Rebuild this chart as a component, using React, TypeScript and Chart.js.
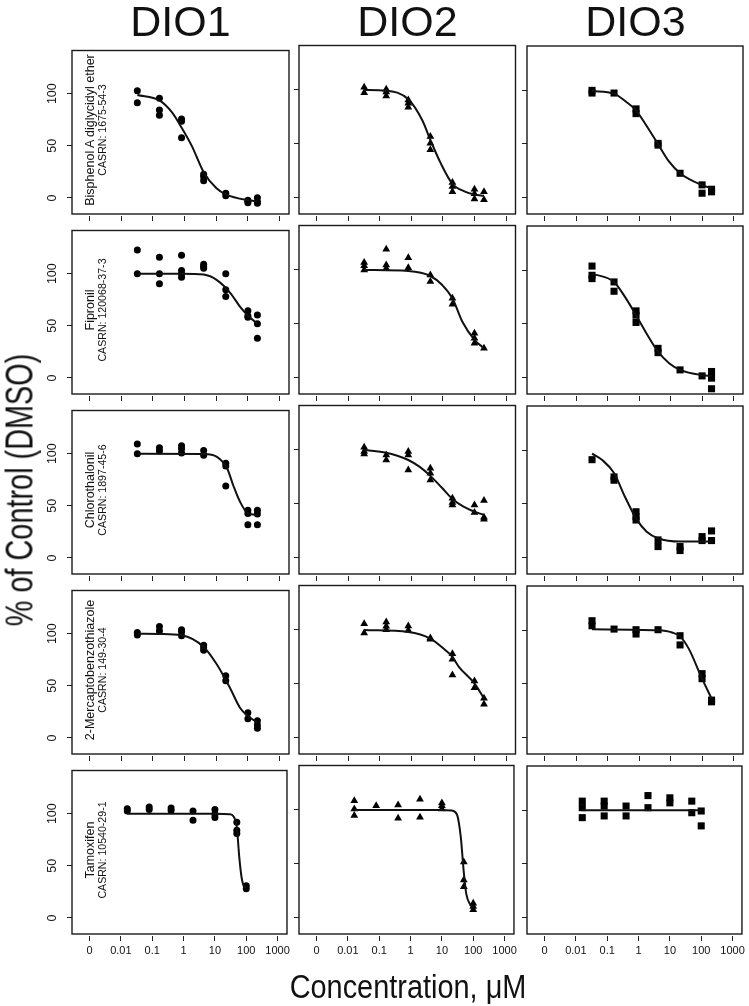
import React, { useEffect, useRef } from 'react';
import { Chart, registerables } from 'chart.js';
Chart.register(...registerables);

// ---------------- data ----------------
const ENZYMES = ['DIO1', 'DIO2', 'DIO3'];
const COMPOUNDS = ['Bisphenol A diglycidyl ether', 'Fipronil', 'Chlorothalonil', '2-Mercaptobenzothiazole', 'Tamoxifen'];
const CASRNS = ['CASRN: 1675-54-3', 'CASRN: 120068-37-3', 'CASRN: 1897-45-6', 'CASRN: 149-30-4', 'CASRN: 10540-29-1'];
const Y_TITLE = '% of Control (DMSO)';
const X_TITLE = 'Concentration, \u03BCM';
const X_TICK_VALUES = [0.001, 0.01, 0.1, 1, 10, 100, 1000];
const X_TICK_LABELS = ['0', '0.01', '0.1', '1', '10', '100', '1000'];
const Y_TICK_VALUES = [0, 50, 100];

const CONC_UM = [0.032, 0.16, 0.8, 4, 20, 100, 200];
const CONC_TAMOXIFEN_UM = [0.016, 0.08, 0.4, 2, 10, 50, 100];

// Bisphenol A diglycidyl ether
const BADGE_DIO1 = [[102.8, 91.4], [95.7, 84.3, 79.3], [75.6, 73.5, 57.7], [22.8, 20.4, 16.4], [4.6, 2.2], [-2.2, -4.6, -3.4], [0.3, -3.7, -5.2]];
const BADGE_DIO1_FIT_X = [0.032, 0.16, 0.4, 0.8, 1.7, 4, 10, 20, 100, 200];
const BADGE_DIO1_FIT_Y = [98.8, 93.5, 82, 67.5, 49.7, 24.7, 9.5, 3.4, -2.2, -3.1];
const BADGE_DIO2 = [[102.5, 97.5], [100.6, 98.1, 94.4], [90.7, 87.6, 83.9], [56.7, 50.5, 44.3], [13.9, 10.2, 5.3], [7.7, 3.4, -1.5], [5.3, -2.2]];
const BADGE_DIO2_FIT_X = [0.032, 0.16, 0.8, 2.2, 4, 8.5, 20, 50, 100, 200];
const BADGE_DIO2_FIT_Y = [100, 99.4, 91.3, 72, 53.6, 31.9, 12.7, 5.5, 2.8, 1.5];
const BADGE_DIO3 = [[100, 97.5], [97.5], [82.7, 78.3], [50.5, 48.9], [22.6], [11.8, 4.0], [7.7, 5.3]];
const BADGE_DIO3_FIT_X = [0.032, 0.16, 0.36, 0.8, 1.8, 4, 9, 20, 100, 200];
const BADGE_DIO3_FIT_Y = [99.4, 96.9, 90, 81.4, 66, 49.8, 33.4, 22.6, 11.5, 8.7];

// Fipronil
const FIPRONIL_DIO1 = [[122.6, 100], [115.8, 100, 90.4], [117.6, 103.1, 100, 96.6], [109, 107.1, 105.3], [100, 84.5, 78], [64.4, 59.4, 58.2], [60.4, 52, 38.1]];
const FIPRONIL_DIO1_FIT_X = [0.032, 0.8, 4, 10.5, 28, 57, 100, 200];
const FIPRONIL_DIO1_FIT_Y = [100, 100, 99.1, 93.8, 81.4, 68.1, 59.8, 52];
const FIPRONIL_DIO2 = [[107, 104, 100], [119.2, 104.6, 101.5], [111.5, 102.2], [95.4, 89.2], [73.7, 68.1], [41.2, 36.5, 31.9], [27.2]];
const FIPRONIL_DIO2_FIT_X = [0.032, 0.8, 4, 9.5, 20, 41, 100, 200];
const FIPRONIL_DIO2_FIT_Y = [100, 99, 94.4, 86, 73.7, 52, 35, 27.2];
const FIPRONIL_DIO3 = [[104, 95.4, 92.3], [89.2, 80.5], [62.2, 58.2, 51.4], [27.2, 23.2], [7.1], [1.5], [5.6, -0.6, -10.5]];
const FIPRONIL_DIO3_FIT_X = [0.032, 0.16, 0.36, 0.8, 1.8, 4, 9, 20, 100, 200];
const FIPRONIL_DIO3_FIT_Y = [96.9, 89.2, 75, 58.2, 40.2, 24.1, 13.3, 7.1, 2.2, 1.5];

// Chlorothalonil
const CHLOROTHALONIL_DIO1 = [[109.3, 100], [105.6, 102.5], [107.7, 104.6, 100.6], [103.1, 98.5], [90.7, 88.2, 69], [45.8, 42.7, 31.9], [45.8, 42.1, 31.9]];
const CHLOROTHALONIL_DIO1_FIT_X = [0.032, 4, 10.5, 22, 35, 57, 100, 200];
const CHLOROTHALONIL_DIO1_FIT_Y = [100, 99.7, 96.9, 86, 69, 53.6, 42.7, 41.2];
const CHLOROTHALONIL_DIO2 = [[102.5, 98.5, 96.3], [95.4, 90.7], [98.5, 95.4, 81.4], [83, 78.3, 72.1], [55.1, 51.1, 48.9], [48.9, 41.8], [52.9, 37.5, 35.6]];
const CHLOROTHALONIL_DIO2_FIT_X = [0.032, 0.16, 0.36, 0.8, 1.8, 4, 9, 20, 45, 100, 200];
const CHLOROTHALONIL_DIO2_FIT_Y = [100, 97.5, 94.7, 90.7, 84.5, 75.9, 65.3, 54.5, 47.4, 42.7, 39.6];
const CHLOROTHALONIL_DIO3 = [[91.3], [75.2, 72.1], [42.7, 38.1, 35], [16.4, 10.2], [10.2, 6.5], [19.5, 15.8], [24.8, 15.8]];
const CHLOROTHALONIL_DIO3_FIT_X = [0.032, 0.069, 0.16, 0.355, 0.8, 1.74, 4, 20, 100, 200];
const CHLOROTHALONIL_DIO3_FIT_Y = [96.9, 90.7, 78.9, 56.7, 36.5, 24.1, 18, 14.9, 14.9, 14.9];

// 2-Mercaptobenzothiazole
const MBT_DIO1 = [[101.2, 98.8], [106.8, 102.5], [103.7, 101.9, 98.1], [88.9, 86.4, 84], [59.6, 54.9], [24.1, 18.5], [16.4, 12.3, 9.3]];
const MBT_DIO1_FIT_X = [0.032, 0.16, 0.8, 4, 10.5, 28, 57, 100, 200];
const MBT_DIO1_FIT_Y = [100, 99.7, 98.5, 87.3, 70.4, 47.2, 28.7, 21, 14.8];
const MBT_DIO2 = [[105.9, 97.2], [107.4, 103.4, 100.3], [103.7, 99.7], [92.6, 91.4], [77.8, 72.8, 58], [52.5, 46.3], [36.4, 30.9]];
const MBT_DIO2_FIT_X = [0.032, 0.8, 4, 12, 20, 32, 100, 200];
const MBT_DIO2_FIT_Y = [100, 98.1, 92, 81.2, 75, 65.7, 50.3, 36.4];
const MBT_DIO3 = [[109, 104.3], [101.2], [100.6, 96.6], [100.6], [95, 86.4], [59.6, 54.9], [34.9, 33.3]];
const MBT_DIO3_FIT_X = [0.032, 4, 11.2, 20, 38, 100, 200];
const MBT_DIO3_FIT_Y = [101, 100, 98, 94.4, 82.7, 54.9, 36.4];

// Tamoxifen
const TAMOXIFEN_DIO1 = [[104.6, 102.5], [106.5, 104], [105.5, 103], [102.5, 93.8], [104, 99.4, 96.3], [91.7, 84, 80.9], [30.8, 28]];
const TAMOXIFEN_DIO1_FIT_X = [0.016, 10, 30, 40, 50, 60, 70, 80, 100];
const TAMOXIFEN_DIO1_FIT_Y = [100, 100, 99.5, 97, 87, 58, 40, 32, 29];
const TAMOXIFEN_DIO2 = [[108.6, 100.9, 94.8], [104], [104.6, 92.3], [110, 93.2], [106.5, 104, 100.9], [51.7, 34.8, 28.6], [13.2, 10.2, 7.1]];
const TAMOXIFEN_DIO2_FIT_X = [0.016, 10, 20, 30, 40, 50, 60, 80, 100];
const TAMOXIFEN_DIO2_FIT_Y = [100, 100, 99.5, 96, 75, 42, 22, 12, 9];
const TAMOXIFEN_DIO3 = [[108.6, 102.5, 93.2], [108.6, 104, 94.8], [104, 94.8], [113.8, 102.5], [111.7, 107], [108.6, 97.8], [99.4, 85.5]];
const TAMOXIFEN_DIO3_FIT_X = [0.016, 100];
const TAMOXIFEN_DIO3_FIT_Y = [100, 100];

const PANELS = [
  [
    { conc: CONC_UM, reps: BADGE_DIO1, fitX: BADGE_DIO1_FIT_X, fitY: BADGE_DIO1_FIT_Y },
    { conc: CONC_UM, reps: BADGE_DIO2, fitX: BADGE_DIO2_FIT_X, fitY: BADGE_DIO2_FIT_Y },
    { conc: CONC_UM, reps: BADGE_DIO3, fitX: BADGE_DIO3_FIT_X, fitY: BADGE_DIO3_FIT_Y },
  ],
  [
    { conc: CONC_UM, reps: FIPRONIL_DIO1, fitX: FIPRONIL_DIO1_FIT_X, fitY: FIPRONIL_DIO1_FIT_Y },
    { conc: CONC_UM, reps: FIPRONIL_DIO2, fitX: FIPRONIL_DIO2_FIT_X, fitY: FIPRONIL_DIO2_FIT_Y },
    { conc: CONC_UM, reps: FIPRONIL_DIO3, fitX: FIPRONIL_DIO3_FIT_X, fitY: FIPRONIL_DIO3_FIT_Y },
  ],
  [
    { conc: CONC_UM, reps: CHLOROTHALONIL_DIO1, fitX: CHLOROTHALONIL_DIO1_FIT_X, fitY: CHLOROTHALONIL_DIO1_FIT_Y },
    { conc: CONC_UM, reps: CHLOROTHALONIL_DIO2, fitX: CHLOROTHALONIL_DIO2_FIT_X, fitY: CHLOROTHALONIL_DIO2_FIT_Y },
    { conc: CONC_UM, reps: CHLOROTHALONIL_DIO3, fitX: CHLOROTHALONIL_DIO3_FIT_X, fitY: CHLOROTHALONIL_DIO3_FIT_Y },
  ],
  [
    { conc: CONC_UM, reps: MBT_DIO1, fitX: MBT_DIO1_FIT_X, fitY: MBT_DIO1_FIT_Y },
    { conc: CONC_UM, reps: MBT_DIO2, fitX: MBT_DIO2_FIT_X, fitY: MBT_DIO2_FIT_Y },
    { conc: CONC_UM, reps: MBT_DIO3, fitX: MBT_DIO3_FIT_X, fitY: MBT_DIO3_FIT_Y },
  ],
  [
    { conc: CONC_TAMOXIFEN_UM, reps: TAMOXIFEN_DIO1, fitX: TAMOXIFEN_DIO1_FIT_X, fitY: TAMOXIFEN_DIO1_FIT_Y },
    { conc: CONC_TAMOXIFEN_UM, reps: TAMOXIFEN_DIO2, fitX: TAMOXIFEN_DIO2_FIT_X, fitY: TAMOXIFEN_DIO2_FIT_Y },
    { conc: CONC_TAMOXIFEN_UM, reps: TAMOXIFEN_DIO3, fitX: TAMOXIFEN_DIO3_FIT_X, fitY: TAMOXIFEN_DIO3_FIT_Y },
  ],
];

// ---------------- layout / style ----------------
const FONT = "'Liberation Sans', Arial, Helvetica, sans-serif";
const INK = '#111';
const COL_LEFT = [72, 299, 527];
const ROW_TOP = [45, 225, 405, 585, 765];
const BOX_W = 217;
const BOX_H = 169;
const PAD_L = 46;
const PAD_R = 4;
const PAD_T = 4;
const PAD_B = 40;
const Y_MIN = -15.4;
const Y_MAX = 141.4;
const X_MIN = Math.pow(10, -3.56);
const X_MAX = Math.pow(10, 3.3);
const POINT_STYLES = ['circle', 'triangle', 'rect'];
const POINT_RADII = [3.5, 4.5, 5];

const boxPlugin = {
  id: 'panelBox',
  afterDraw(chart: any) {
    const { ctx, chartArea: a } = chart;
    ctx.save();
    ctx.strokeStyle = '#1a1a1a';
    ctx.lineWidth = 1.4;
    ctx.strokeRect(a.left, a.top, a.right - a.left, a.bottom - a.top);
    ctx.restore();
  },
};

function Panel({ row, col, panel }: any) {
  const ref = useRef<HTMLCanvasElement | null>(null);
  const W = BOX_W + PAD_L + PAD_R;
  const H = BOX_H + PAD_T + PAD_B;
  useEffect(() => {
    const points: any[] = [];
    panel.conc.forEach((c: number, i: number) => {
      panel.reps[i].forEach((v: number) => points.push({ x: c, y: v }));
    });
    const fit = panel.fitX.map((x: number, i: number) => ({ x, y: panel.fitY[i] }));
    const gridOpts = {
      display: true,
      drawOnChartArea: false,
      drawTicks: true,
      tickLength: 7,
      tickColor: '#222',
      tickWidth: 1,
      tickBorderDash: [0, 2, 5, 20],
    };
    const chart = new Chart(ref.current as HTMLCanvasElement, {
      type: 'scatter',
      data: {
        datasets: [
          {
            data: points,
            pointStyle: POINT_STYLES[col] as any,
            pointRadius: POINT_RADII[col],
            backgroundColor: '#000',
            borderColor: '#000',
            borderWidth: 0,
            order: 1,
          },
          {
            data: fit,
            showLine: true,
            borderColor: INK,
            borderWidth: 2,
            pointRadius: 0,
            cubicInterpolationMode: 'monotone',
            fill: false,
            order: 0,
          } as any,
        ],
      },
      options: {
        animation: false,
        responsive: false,
        maintainAspectRatio: false,
        events: [],
        layout: { padding: { top: PAD_T, right: PAD_R, left: 0, bottom: 0 } },
        plugins: { legend: { display: false }, tooltip: { enabled: false }, title: { display: false } },
        scales: {
          x: {
            type: 'logarithmic',
            position: 'bottom',
            min: X_MIN,
            max: X_MAX,
            bounds: 'data',
            afterBuildTicks: (s: any) => {
              s.ticks = X_TICK_VALUES.map((v) => ({ value: v }));
            },
            afterFit: (s: any) => {
              s.height = PAD_B;
            },
            border: { display: false },
            grid: gridOpts as any,
            ticks: {
              display: row === 4,
              autoSkip: false,
              maxRotation: 0,
              minRotation: 0,
              padding: 3,
              color: INK,
              font: { family: FONT, size: 11 },
              callback: (_v: any, i: number) => X_TICK_LABELS[i],
            },
          },
          y: {
            type: 'linear',
            position: 'left',
            min: Y_MIN,
            max: Y_MAX,
            bounds: 'data',
            afterBuildTicks: (s: any) => {
              s.ticks = Y_TICK_VALUES.map((v) => ({ value: v }));
            },
            afterFit: (s: any) => {
              s.width = PAD_L;
            },
            border: { display: false },
            grid: gridOpts as any,
            ticks: {
              display: col === 0,
              minRotation: 90,
              maxRotation: 90,
              crossAlign: 'center',
              padding: 2,
              color: INK,
              font: { family: FONT, size: 12.5 },
              callback: (v: any) => String(v),
            },
          },
        },
      } as any,
      plugins: [boxPlugin],
    });
    return () => chart.destroy();
  }, []);
  return (
    <canvas
      ref={ref}
      width={W}
      height={H}
      style={{ position: 'absolute', left: COL_LEFT[col] - PAD_L, top: ROW_TOP[row] - PAD_T, width: W, height: H }}
    />
  );
}

function Label({ text, cx, cy, size, rot = 0, sx = 1 }: any) {
  return (
    <div
      style={{
        position: 'absolute',
        left: cx,
        top: cy,
        transform: `translate(-50%, -50%) rotate(${rot}deg) scaleX(${sx})`,
        whiteSpace: 'nowrap',
        lineHeight: 1,
        fontFamily: FONT,
        fontSize: size,
        color: INK,
      }}
    >
      {text}
    </div>
  );
}

export default function App() {
  return (
    <div style={{ position: 'absolute', left: 0, top: 0, width: 749, height: 1006, background: '#fff', overflow: 'hidden' }}>
      {PANELS.map((rowPanels, r) =>
        rowPanels.map((p, c) => <Panel key={`${r}-${c}`} row={r} col={c} panel={p} />)
      )}
      {ENZYMES.map((e, c) => (
        <Label key={e} text={e} cx={COL_LEFT[c] + BOX_W / 2} cy={21} size={43} />
      ))}
      {COMPOUNDS.map((name, r) => (
        <React.Fragment key={name}>
          <Label text={name} cx={COL_LEFT[0] + 17.5} cy={ROW_TOP[r] + BOX_H / 2} size={12.5} rot={-90} />
          <Label text={CASRNS[r]} cx={COL_LEFT[0] + 29.7} cy={ROW_TOP[r] + BOX_H / 2} size={10.6} rot={-90} />
        </React.Fragment>
      ))}
      <Label text={Y_TITLE} cx={19} cy={490} size={39} rot={-90} sx={0.74} />
      <Label text={X_TITLE} cx={408} cy={986} size={34} sx={0.85} />
    </div>
  );
}
